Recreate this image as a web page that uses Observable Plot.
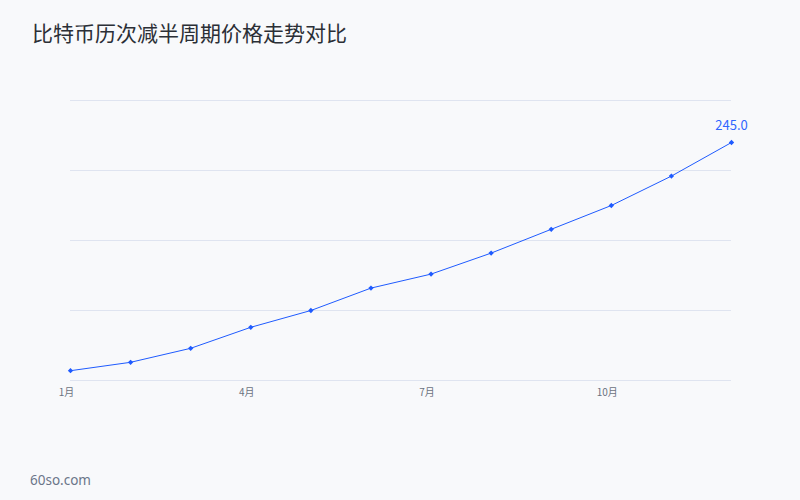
<!DOCTYPE html>
<html>
<head>
<meta charset="utf-8">
<script src="https://cdn.jsdelivr.net/npm/d3@7"></script>
<script src="https://cdn.jsdelivr.net/npm/@observablehq/plot@0.6"></script>
<style>
  html, body { margin: 0; padding: 0; background: #f8f9fb; }
  #wrap { width: 800px; height: 500px; background: #f8f9fb; font-family: "Noto Sans CJK SC", "Noto Sans", sans-serif; }
  #title { box-sizing: border-box; height: 60px; padding: 20px 0 0 32px; font-size: 21px; line-height: 25px; color: #2b2f36; }
  #caption { box-sizing: border-box; height: 40px; padding: 11px 0 0 30px; font-size: 13.5px; line-height: 18px; color: #6b7689; font-family: "Noto Sans", sans-serif; }
  svg { display: block; }
</style>
</head>
<body>
<div id="wrap">
  <div id="title">比特币历次减半周期价格走势对比</div>
  <div id="chart"></div>
  <div id="caption">60so.com</div>
</div>
<script>
const months = [1, 2, 3, 4, 5, 6, 7, 8, 9, 10, 11, 12];
const prices = [82, 88, 98, 113, 125, 141, 151, 166, 183, 200, 221, 245];
const tickMonths = [1, 4, 7, 10];
const tickLabels = ["1月", "4月", "7月", "10月"];
const gridValues = [75, 125, 175, 225, 275];

const data = months.map((m, i) => ({month: m, price: prices[i]}));
const last = data[data.length - 1];
const blue = "#1f5bff";

const chart = Plot.plot({
  width: 800,
  height: 400,
  marginLeft: 70,
  marginRight: 69,
  marginTop: 40,
  marginBottom: 80,
  style: {background: "transparent", fontFamily: "'Noto Sans CJK SC', 'Noto Sans', sans-serif"},
  x: {domain: [1, 12], axis: null},
  y: {domain: [75, 275], axis: null},
  marks: [
    Plot.ruleY(gridValues, {stroke: "#dfe4f0", strokeWidth: 1}),
    Plot.axisX(tickMonths, {
      label: null,
      tickSize: 0,
      tickPadding: 8,
      dx: -4,
      tickFormat: (d) => tickLabels[tickMonths.indexOf(d)],
      fontSize: 10,
      fill: "#6b7280"
    }),
    Plot.line(data, {x: "month", y: "price", stroke: blue, strokeWidth: 1}),
    Plot.dot(data, {x: "month", y: "price", symbol: "diamond2", r: 2.4, fill: blue, stroke: "none"}),
    Plot.text([last], {x: "month", y: "price", text: (d) => d.price.toFixed(1), dy: -17, fill: "#2f66ff", fontSize: 13})
  ]
});
document.getElementById("chart").appendChild(chart);
</script>
</body>
</html>
